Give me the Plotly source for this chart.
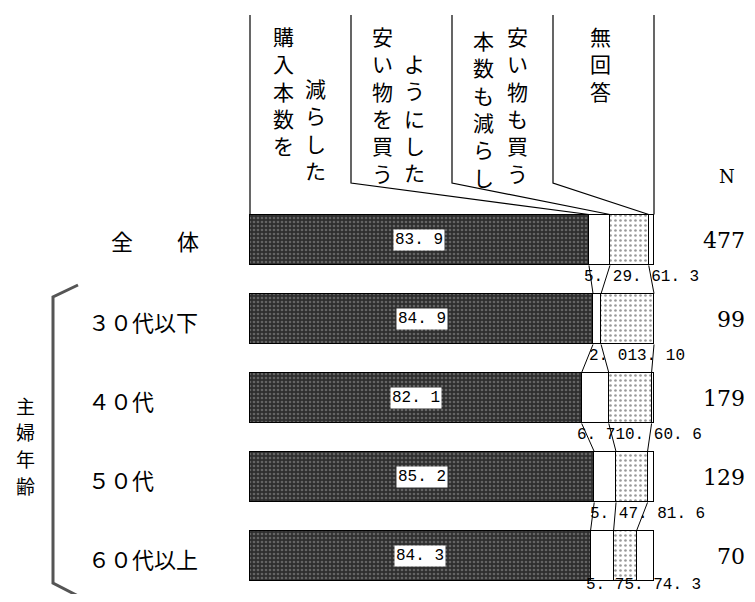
import plotly.graph_objects as go

# ── Data ─────────────────────────────────────────────────────────────────────
rows       = ["全　　体", "３０代以下", "４０代", "５０代", "６０代以上"]
n_counts   = [477, 99, 179, 129, 70]
reduced    = [83.9, 84.9, 82.1, 85.2, 84.3]   # 購入本数を減らした
cheaper    = [5.2, 2.0, 6.7, 5.4, 5.7]        # 安い物を買うようにした
both       = [9.6, 13.1, 10.6, 7.8, 5.7]      # 安い物も買う本数も減らし
no_answer  = [1.3, 0.0, 0.6, 1.6, 4.3]        # 無回答

JP = "Noto Sans CJK JP"
MONO = "Liberation Mono"
SERIF = "DejaVu Serif"
BAR_W = 0.645
PAD = 8                      # page body margin
W, H = 755 - 2 * PAD, 602 - 2 * PAD

# reference-pixel helpers for layout-level placement
px = lambda v: (v - PAD) / W
py = lambda v: 1 - (v - PAD) / H

# axis ranges: 0% at ref x=250, 100% at ref x=654; row 0 at ref y=240, 79px per row
X0, XS = 250 - PAD, 4.04
Y0, YS = 240 - PAD, 79.0
x_range = [-X0 / XS, (W - X0) / XS]
y_range = [(H - Y0) / YS, -Y0 / YS]
yd = lambda v: (v - 240) / YS   # ref pixel y -> data y


def fmt(v):
    return "0" if v == 0 else f"{v:.1f}".replace(".", ". ")


fig = go.Figure()

series = [
    (reduced,   dict(color="#2e2e2e", pattern=dict(shape=".", fgcolor="#9a9a9a", bgcolor="#2e2e2e", size=4, solidity=0.35))),
    (cheaper,   dict(color="white")),
    (both,      dict(color="white", pattern=dict(shape=".", fgcolor="#333333", bgcolor="white", size=5, solidity=0.22))),
    (no_answer, dict(color="white")),
]
for vals, mk in series:
    mk["line"] = dict(color="black", width=1.5)
    fig.add_trace(go.Bar(
        y=list(range(len(rows))), x=vals, orientation="h",
        width=BAR_W, marker=mk, showlegend=False, hoverinfo="skip",
    ))

# cumulative boundaries
cums = []
for i in range(len(rows)):
    c1 = reduced[i]
    c2 = c1 + cheaper[i]
    c3 = c2 + both[i]
    cums.append([c1, c2, c3])

shapes = []
# connector lines between consecutive bars
for i in range(len(rows) - 1):
    for k in range(3):
        shapes.append(dict(type="line", xref="x", yref="y",
                           x0=cums[i][k], y0=i + BAR_W / 2,
                           x1=cums[i + 1][k], y1=i + 1 - BAR_W / 2,
                           line=dict(color="black", width=1)))

# header callout boxes
top_y, bend_y, bar_top = yd(15), yd(183), -BAR_W / 2
shapes.append(dict(type="line", xref="x", yref="y", x0=0, y0=top_y, x1=0, y1=bar_top,
                   line=dict(color="black", width=1.2)))
shapes.append(dict(type="line", xref="x", yref="y", x0=100, y0=top_y, x1=100, y1=bar_top,
                   line=dict(color="black", width=1.2)))
for k, xv in enumerate([25, 50, 75]):
    shapes.append(dict(type="path", xref="x", yref="y",
                       path=f"M {xv},{top_y} L {xv},{bend_y} L {cums[0][k]},{bar_top}",
                       line=dict(color="black", width=1.2)))

# bracket for 主婦年齢
shapes.append(dict(type="path", xref="paper", yref="paper",
                   path=f"M {px(78)},{py(285)} L {px(53)},{py(297)} L {px(53)},{py(583)} L {px(80)},{py(597)}",
                   line=dict(color="#555555", width=3)))

annotations = []
# vertical header text (column x px, top y px, text)
headers = [
    (283, 28, "購入本数を"), (315, 80, "減らした"),
    (382, 28, "安い物を買う"), (415, 55, "ようにした"),
    (483, 32, "本数も減らし"), (517, 28, "安い物も買う"),
    (600, 28, "無回答"),
]
for x0, y0, t in headers:
    annotations.append(dict(xref="paper", yref="paper", x=px(x0), y=py(y0 - 9),
                            xanchor="center", yanchor="top", showarrow=False,
                            text="<br>".join(t), font=dict(family=JP, size=21, color="black")))

# row labels
for i, lab in enumerate(rows):
    if i == 0:
        annotations.append(dict(xref="paper", yref="y", x=px(155), y=i, xanchor="center",
                                yanchor="middle", showarrow=False, text=lab,
                                font=dict(family=JP, size=22, color="black")))
    else:
        annotations.append(dict(xref="paper", yref="y", x=px(86), y=i + 0.03, xanchor="left",
                                yanchor="middle", showarrow=False, text=lab,
                                font=dict(family=JP, size=22, color="black")))

# 主婦年齢, one character per annotation
for j, ch in enumerate("主婦年齢"):
    annotations.append(dict(xref="paper", yref="paper", x=px(25), y=py(405 + j * 26.7),
                            xanchor="center", yanchor="middle", showarrow=False, text=ch,
                            borderpad=0, font=dict(family=JP, size=19, color="black")))

# N column
annotations.append(dict(xref="paper", yref="paper", x=px(727), y=py(177), xanchor="center",
                        yanchor="middle", showarrow=False, text="N",
                        font=dict(family=SERIF, size=18, color="black")))
for i, n in enumerate(n_counts):
    annotations.append(dict(xref="paper", yref="y", x=1.0, y=i, xanchor="right",
                            yanchor="middle", showarrow=False, text=str(n),
                            font=dict(family=SERIF, size=22, color="black")))

# value labels
for i in range(len(rows)):
    annotations.append(dict(xref="x", yref="y", x=reduced[i] / 2, y=i, showarrow=False,
                            text=fmt(reduced[i]), bgcolor="white", borderpad=1,
                            font=dict(family=MONO, size=16, color="black")))
    small = "".join(fmt(v) for v in (cheaper[i], both[i], no_answer[i]))
    annotations.append(dict(xref="x", yref="y", x=cums[i][0] - 1.6,
                            y=i + (0.47 if i < len(rows) - 1 else 0.37),
                            xanchor="left", yanchor="middle", showarrow=False, text=small,
                            font=dict(family=MONO, size=16, color="black")))

fig.update_layout(
    barmode="stack", bargap=0,
    width=W, height=H, margin=dict(l=0, r=0, t=0, b=0),
    plot_bgcolor="white", paper_bgcolor="white",
    xaxis=dict(range=x_range, visible=False, fixedrange=True),
    yaxis=dict(range=y_range, visible=False, fixedrange=True),
    shapes=shapes, annotations=annotations,
)

fig.write_html("out.html")
